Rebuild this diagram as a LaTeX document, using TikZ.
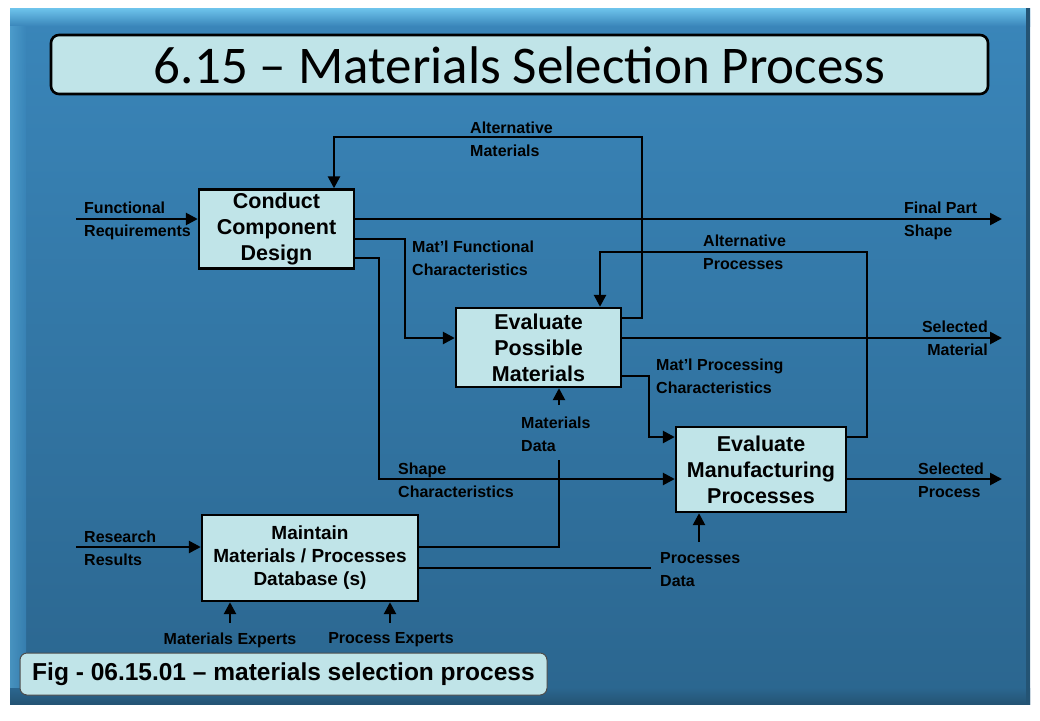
\documentclass[tikz,border=0pt]{standalone}
\usepackage{fontspec}
\setmainfont{Liberation Sans}
\newfontfamily\titlefont{Carlito}
\usepackage{tikz}
\usetikzlibrary{arrows.meta,shapes}

\definecolor{panelHi}{RGB}{110,196,236}
\definecolor{panelTop}{RGB}{58,134,186}
\definecolor{panelBot}{RGB}{43,102,143}
\definecolor{panelEdge}{RGB}{36,84,116}
\definecolor{boxFill}{RGB}{192,228,232}

\tikzset{
  procbox/.style={draw=black, line width=2.4pt, fill=boxFill, align=center,
    inner sep=0pt, font=\bfseries\fontsize{21.5}{26}\selectfont},
  flow/.style={line width=2.6pt, -{Triangle[length=12pt,width=12pt]}},
  wire/.style={line width=2.6pt},
  lbl/.style={align=left, inner sep=0pt, font=\bfseries\fontsize{16}{23}\selectfont},
}

\begin{document}
\begin{tikzpicture}[x=1pt,y=-1pt]
\useasboundingbox (0,0) rectangle (1040,720);
\fill[white] (0,0) rectangle (1040,720);
\shade[top color=panelTop, bottom color=panelBot] (10,8) rectangle (1030,704);
\shade[top color=panelHi, bottom color=panelTop] (10,8) rectangle (1030,26);
\shade[left color=panelHi!50!panelTop, right color=panelTop, opacity=0.7] (10,26) rectangle (26,690);
\shade[top color=panelBot, bottom color=panelEdge] (10,688) rectangle (1030,704);
\fill[panelEdge] (1026,8) rectangle (1030,704);

% title and caption
\node[draw=black, line width=2.6pt, fill=boxFill, rounded corners=8pt,
  minimum width=937pt, minimum height=59pt] (title) at (519.5,64.5) {};
\node[font=\titlefont\fontsize{53}{60}\selectfont] at ([yshift=-1pt]title.center) {6.15 – Materials Selection Process};
\node[draw=black!70, line width=1pt, fill=boxFill, rounded corners=7pt,
  minimum width=527pt, minimum height=42pt, font=\bfseries\fontsize{24.5}{28}\selectfont]
  (caption) at (283.5,674) {Fig - 06.15.01 – materials selection process};

% process boxes
\node[procbox, minimum width=155pt, minimum height=79pt] (ccd) at (276.5,229) {Conduct\\Component\\Design};
\node[procbox, minimum width=165pt, minimum height=79pt] (epm) at (538.5,347.5) {Evaluate\\Possible\\Materials};
\node[procbox, minimum width=170pt, minimum height=85pt] (emp) at (761,469.5) {Evaluate\\Manufacturing\\Processes};
\node[procbox, minimum width=216pt, minimum height=86pt, font=\bfseries\fontsize{19}{23}\selectfont]
  (mmpd) at (310,558) {Maintain\\Materials / Processes\\Database (s)};

% free ends
\coordinate (funcin) at (76,219);
\coordinate (resin) at (76,547);
\coordinate (shapeout) at (1002,219);
\coordinate (matout) at (1002,338);
\coordinate (procout) at (1002,479);
\coordinate (matexp) at (230,623);
\coordinate (procexp) at (390,623);
\coordinate (mdata) at (559,405);
\coordinate (pdata) at (699,542);

% connectors
\draw[flow] (funcin) -- (ccd.west |- funcin);
\draw[flow] (ccd.east |- shapeout) -- (shapeout);
\draw[flow] (ccd.east |- 0,239) -| (405,338) -- (epm.west |- 0,338);
\draw[flow] (ccd.east |- 0,258) -| (379,479) -- (emp.west |- 0,479);
\draw[flow] (epm.east |- 0,318) -| (642,137) -| (ccd.north -| 334,0);
\draw[flow] (epm.east |- matout) -- (matout);
\draw[flow] (epm.east |- 0,376) -| (649,437) -- (emp.west |- 0,437);
\draw[flow] (emp.east |- 0,437) -| (867,252) -| (epm.north -| 600,0);
\draw[flow] (emp.east |- procout) -- (procout);
\draw[wire] (mmpd.east |- 0,547) -| (559,460);
\draw[flow] (mdata) -- (epm.south -| mdata);
\draw[wire] (mmpd.east |- 0,568) -- (651,568);
\draw[flow] (pdata) -- (emp.south -| pdata);
\draw[flow] (resin) -- (mmpd.west |- resin);
\draw[flow] (matexp) -- (mmpd.south -| matexp);
\draw[flow] (procexp) -- (mmpd.south -| procexp);

% labels
\node[lbl, anchor=west] at (84,220.5) {Functional\\Requirements};
\node[lbl, anchor=west] at (470,139.5) {Alternative\\Materials};
\node[lbl, anchor=west] at (412,258) {Mat’l Functional\\Characteristics};
\node[lbl, anchor=west] at (904,221) {Final Part\\Shape};
\node[lbl, anchor=west] at (703,252.5) {Alternative\\Processes};
\node[lbl, anchor=east, align=right] at (988,338.5) {Selected\\Material};
\node[lbl, anchor=west] at (656,376) {Mat’l Processing\\Characteristics};
\node[lbl, anchor=west] at (521,434.5) {Materials\\Data};
\node[lbl, anchor=west] at (398,480.5) {Shape\\Characteristics};
\node[lbl, anchor=west] at (918,480.5) {Selected\\Process};
\node[lbl, anchor=west] at (84,548.5) {Research\\Results};
\node[lbl, anchor=west] at (660,569.5) {Processes\\Data};
\node[lbl] at (230,640) {Materials Experts};
\node[lbl] at (391,640) {Process Experts};
\end{tikzpicture}
\end{document}
